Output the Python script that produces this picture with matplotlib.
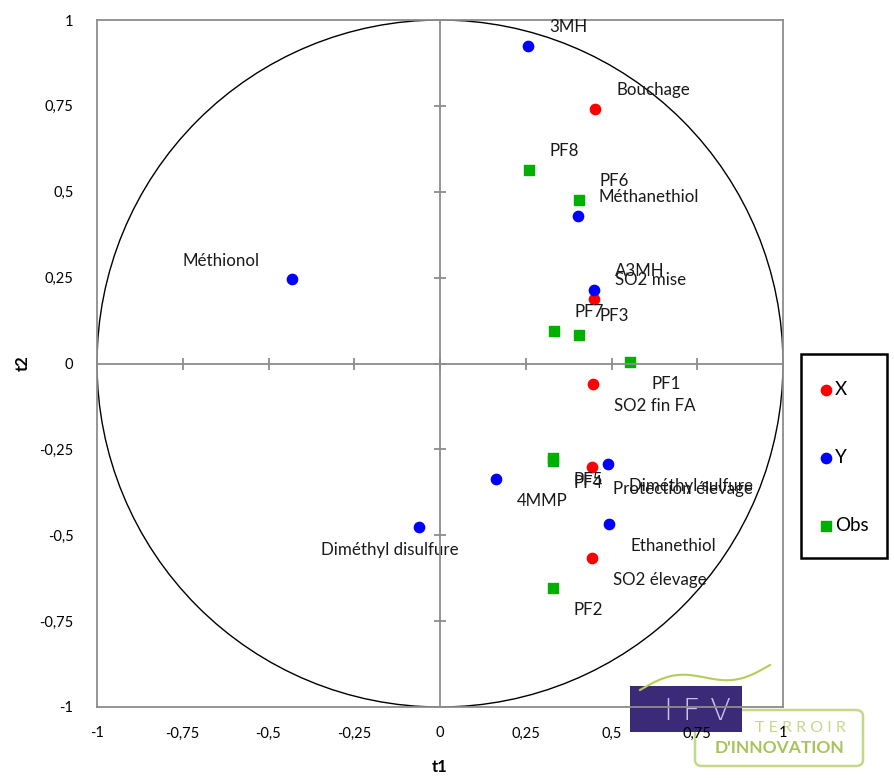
import matplotlib
matplotlib.use("Agg")
import matplotlib.pyplot as plt
import numpy as np
from matplotlib.patches import Circle, Rectangle, FancyBboxPatch
from matplotlib.ticker import FuncFormatter

plt.rcParams['font.family'] = ['Lato', 'DejaVu Sans']

# ---- data ----
x_names = ["Bouchage", "SO2 mise", "SO2 fin FA", "Protection élevage", "SO2 élevage"]
x_t1 = [0.452, 0.449, 0.446, 0.443, 0.443]
x_t2 = [0.742, 0.189, -0.061, -0.300, -0.565]

y_names = ["3MH", "Méthanethiol", "Méthionol", "A3MH", "Diméthyl sulfure",
           "4MMP", "Diméthyl disulfure", "Ethanethiol"]
y_t1 = [0.257, 0.402, -0.431, 0.449, 0.490, 0.163, -0.061, 0.493]
y_t2 = [0.923, 0.428, 0.245, 0.213, -0.294, -0.335, -0.475, -0.466]

obs_names = ["PF1", "PF2", "PF3", "PF4", "PF5", "PF6", "PF7", "PF8"]
obs_t1 = [0.554, 0.329, 0.405, 0.329, 0.329, 0.405, 0.332, 0.259]
obs_t2 = [0.003, -0.655, 0.084, -0.285, -0.274, 0.477, 0.096, 0.562]

ticks = [-1, -0.75, -0.5, -0.25, 0, 0.25, 0.5, 0.75, 1]

# ---- label placement (style) ----
above = {"3MH", "Bouchage", "PF8", "PF6", "Méthanethiol", "A3MH", "SO2 mise", "PF7", "PF3"}
special = {"Méthionol": (-33, 18, "right"), "Diméthyl disulfure": (-29, -23, "center")}

W, H = 894, 778
fig = plt.figure(figsize=(W / 100, H / 100), dpi=100)
ax = fig.add_axes([97 / W, 1 - 707 / H, (783 - 97) / W, (707 - 20) / H])
ax.patch.set_visible(False)
ax.set_xlim(-1, 1)
ax.set_ylim(-1, 1)

for s in ax.spines.values():
    s.set_color("#8c8c8c")
    s.set_linewidth(1.3)

fmt = FuncFormatter(lambda v, p: ("%g" % v).replace(".", ","))
ax.set_xticks(ticks)
ax.set_yticks(ticks)
ax.xaxis.set_major_formatter(fmt)
ax.yaxis.set_major_formatter(fmt)
ax.tick_params(length=0, labelsize=10.5, pad=14, colors="black")
ax.tick_params(axis="y", pad=17)
ax.set_xlabel("t1", fontsize=12, fontweight="bold", labelpad=13)
ax.set_ylabel("t2", fontsize=12, fontweight="bold", labelpad=6)

# overlay axes for center cross with tick marks
ax2 = fig.add_axes(ax.get_position(), sharex=ax, sharey=ax, frameon=True)
ax2.patch.set_visible(False)
for k in ["top", "right"]:
    ax2.spines[k].set_visible(False)
ax2.spines["left"].set_position(("data", 0))
ax2.spines["bottom"].set_position(("data", 0))
for k in ["left", "bottom"]:
    ax2.spines[k].set_color("#8c8c8c")
    ax2.spines[k].set_linewidth(1.3)
ax2.tick_params(direction="inout", length=8, width=1.3, color="#8c8c8c",
                labelleft=False, labelbottom=False)

circ = Circle((0, 0), 1, fill=False, edgecolor="black", linewidth=1.0)
ax.add_patch(circ)

ax.scatter(x_t1, x_t2, s=55, color="#ff0000", marker="o", zorder=3, label="X")
ax.scatter(y_t1, y_t2, s=55, color="#0000ff", marker="o", zorder=3, label="Y")
ax.scatter(obs_t1, obs_t2, s=60, color="#00b000", marker="s", zorder=3, label="Obs")

def lab(names, xs, ys):
    for n, a, b in zip(names, xs, ys):
        if n in special:
            dx, dy, ha = special[n]
        elif n in above:
            dx, dy, ha = 21, 19, "left"
        else:
            dx, dy, ha = 21, -22, "left"
        ax.annotate(n, (a, b), xytext=(dx, dy), textcoords="offset pixels",
                    ha=ha, va="center", fontsize=12.2, color="#1a1a1a", zorder=4)

lab(x_names, x_t1, x_t2)
lab(y_names, y_t1, y_t2)
lab(obs_names, obs_t1, obs_t2)

# legend frame drawn separately, entries via the legend
fig.patches.append(Rectangle((801 / W, 1 - 558 / H), (887 - 801) / W, (558 - 354) / H,
                             transform=fig.transFigure, facecolor="white",
                             edgecolor="black", linewidth=1.8, zorder=1))
h, l = ax.get_legend_handles_labels()
leg = fig.legend(h, l, loc="upper left", bbox_to_anchor=(801 / W, 1 - 361 / H),
                 frameon=False, fontsize=13.5,
                 labelspacing=2.73, handletextpad=0.15, borderpad=1.05,
                 handlelength=0.6, borderaxespad=0)
leg.set_zorder(2)

# ---- logo (IFV / Terroir d'innovation), behind the chart ----
fig.patches.append(FancyBboxPatch((695 / W, 1 - 766 / H), (863 - 695) / W, (766 - 710) / H,
                                  boxstyle="round,pad=0,rounding_size=0.008",
                                  transform=fig.transFigure, facecolor="white",
                                  edgecolor="#c5d88a", linewidth=1.8, zorder=-3))
fig.patches.append(Rectangle((630 / W, 1 - 732 / H), (742 - 630) / W, (732 - 686) / H,
                             transform=fig.transFigure, facecolor="#3b2a78",
                             edgecolor="none", zorder=-2))
fig.text(697 / W, 1 - 712 / H, "I F V", fontsize=22, color="#c9c2e6",
         ha="center", va="center", family="DejaVu Sans", fontweight="light", zorder=-1)
fig.text(800 / W, 1 - 728 / H, "T E R R O I R", fontsize=11.5, color="#c5d88a",
         ha="center", va="center", zorder=-1)
fig.text(779 / W, 1 - 748 / H, "D'INNOVATION", fontsize=12.5, color="#a9c35a",
         ha="center", va="center", fontweight="bold", zorder=-1)
tt = np.linspace(0, 1, 200)
vx = 640 + tt * 130
vy = 690 - 25 * tt - 8 * np.sin(tt * np.pi * 2)
fig.lines.append(plt.Line2D(vx / W, 1 - vy / H, transform=fig.transFigure,
                            color="#b5cc5a", linewidth=1.5, zorder=-1))

fig.savefig("out.png", dpi=100, facecolor="white")
